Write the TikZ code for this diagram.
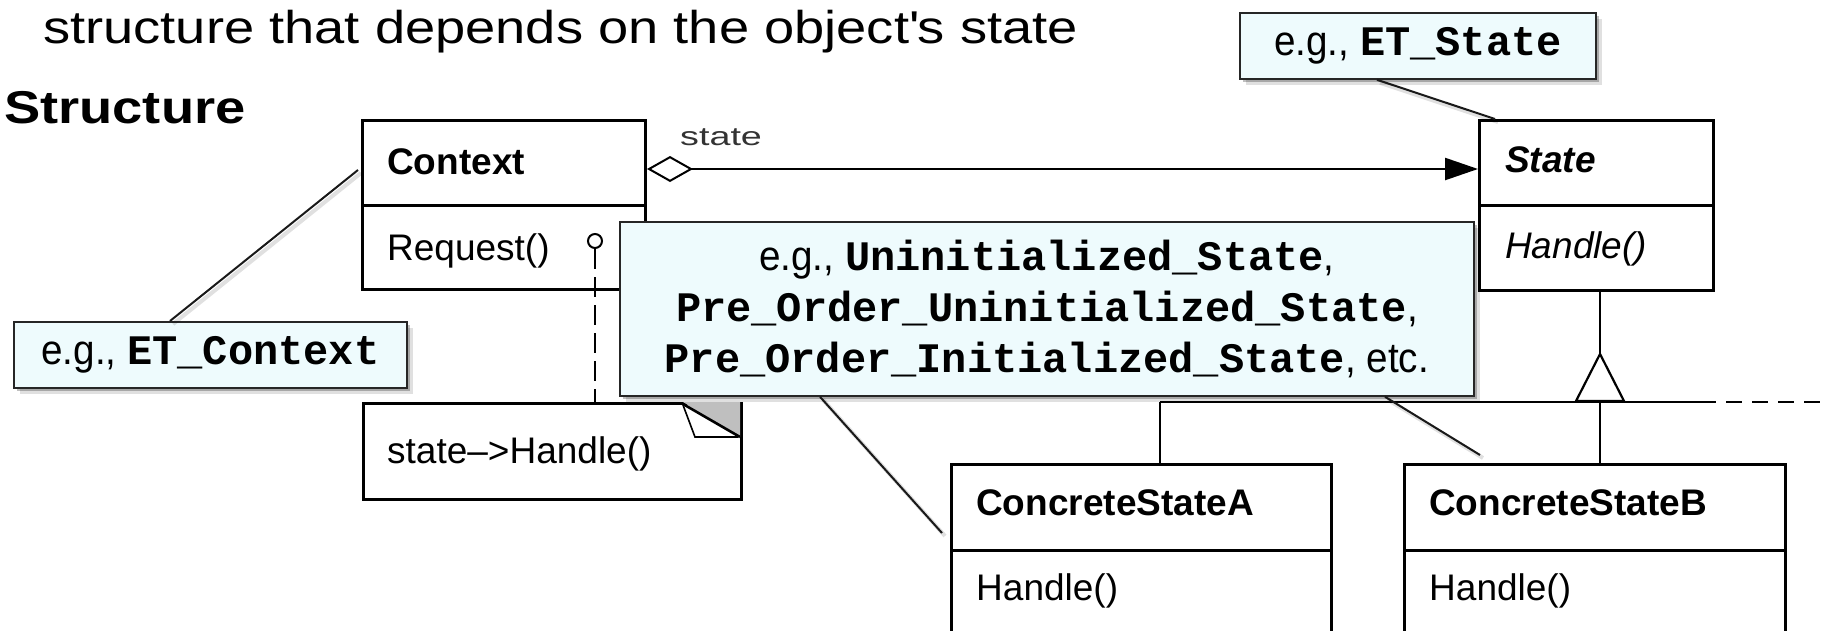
\documentclass[tikz,border=0pt]{standalone}
\usepackage{fontspec}
\setmainfont{Liberation Sans}
\newfontfamily\slidefont{Liberation Sans}[FakeStretch=0.92]
\newfontfamily\widefont{Liberation Sans}[FakeStretch=1.18]
\newfontfamily\rolefont{Liberation Sans}[FakeStretch=1.45]
\newfontfamily\codefont{Liberation Mono}
\usetikzlibrary{arrows.meta,calc,shadows}
\definecolor{notecyan}{RGB}{238,251,253}

\begin{document}
\begin{tikzpicture}[x=1pt,y=-1pt,
  classbox/.style={draw=black, line width=3pt, fill=white, inner sep=0pt, anchor=north west},
  umlop/.style={anchor=base west, inner sep=0pt, font=\fontsize{37}{40}\selectfont},
  umlname/.style={anchor=base west, inner sep=0pt, font=\fontsize{37}{40}\selectfont\bfseries},
  notebox/.style={draw=black!85, line width=1.8pt, fill=notecyan, inner sep=0pt,
    anchor=north west, align=center, font=\slidefont\fontsize{42}{51}\selectfont,
    drop shadow={shadow xshift=3pt, shadow yshift=-3pt, opacity=0.25, fill=black},
    drop shadow={shadow xshift=6pt, shadow yshift=-6pt, opacity=0.12, fill=black}},
  noteline/.style={draw=black!90, line width=2pt,
    preaction={draw=black, opacity=0.12, line width=4pt, transform canvas={shift={(3pt,-3pt)}}}},
  umlline/.style={draw=black, line width=2.6pt},
]
\useasboundingbox (0,0) rectangle (1827,630);
\clip (0,0) rectangle (1827,630);
\fill[white] (0,0) rectangle (1827,630);

% headings
\node[anchor=base west, inner sep=0pt, font=\widefont\fontsize{46}{52}\selectfont]
  (intro) at (43,43) {structure that depends on the object\textquotesingle s state};
\node[anchor=base west, inner sep=0pt, font=\widefont\bfseries\fontsize{46}{52}\selectfont]
  (heading) at (4,123) {Structure};

% Context class
\node[classbox, minimum width=283pt, minimum height=169pt] (context) at (361,119) {};
\draw[line width=3pt] (context.west) -- (context.east);
\node[umlname] (ctxname) at (387,174) {Context};
\node[umlop] (ctxop) at (387,260) {Request()};

% State class
\node[classbox, minimum width=234pt, minimum height=170pt] (state) at (1478,119) {};
\draw[line width=3pt] (state.west) -- (state.east);
\node[umlname, font=\fontsize{37}{40}\selectfont\bfseries\itshape] (statename) at (1505,172) {State};
\node[umlop, font=\fontsize{37}{40}\selectfont\itshape] (stateop) at (1505,258) {Handle()};

% concrete states
\node[classbox, minimum width=380pt, minimum height=172pt] (csa) at (950,463) {};
\draw[line width=3pt] (csa.west) -- (csa.east);
\node[umlname] (csaname) at (976,515) {ConcreteStateA};
\node[umlop] (csaop) at (976,600) {Handle()};

\node[classbox, minimum width=381pt, minimum height=172pt] (csb) at (1403,463) {};
\draw[line width=3pt] (csb.west) -- (csb.east);
\node[umlname] (csbname) at (1429,515) {ConcreteStateB};
\node[umlop] (csbop) at (1429,600) {Handle()};

% aggregation Context -> State
\draw[umlline, line width=2.4pt,
  {Diamond[open, fill=white, length=46pt, width=26pt, line width=2pt]}-{Triangle[length=33pt, width=22pt]}]
  ($(context.north east)+(0,50)$) -- ($(state.north west)+(0,50)$);
\node[anchor=base west, inner sep=0pt, font=\rolefont\fontsize{26}{28}\selectfont, text=black!80]
  (rolename) at (680,145) {state};

% inheritance tree
\coordinate (apex) at (1600,354);
\coordinate (hub) at (1600,402);
\coordinate (ja) at (1160,402);
\coordinate (treeend) at (1700,402);
\coordinate (dashend) at (1827,402);
\draw[umlline] (state.south -| apex) -- (apex);
\draw[umlline] (ja) -- (treeend);
\draw[umlline, dash pattern=on 16pt off 10pt] (treeend) -- (dashend);
\draw[umlline] (ja) -- (ja |- csa.north);
\draw[umlline] (hub) -- (hub |- csb.north);
\draw[umlline, line width=2.2pt, fill=white] (1576,401) -- (apex) -- (1624,401) -- cycle;

% implementation note of Request()
\node[draw=black, line width=2.6pt, fill=white, minimum width=378pt, minimum height=96pt,
  anchor=north west, inner sep=0pt] (codenote) at (362,402) {};
\fill[black!25] (683,402) -- (740,402) -- (740,437) -- cycle;
\draw[line width=1.6pt, fill=white] (683,405) -- (695,437) -- (738,437);
\draw[line width=2.6pt] (683,404) -- (740,437);
\node[umlop] (codetext) at (387,463) {state–>Handle()};
\node[circle, draw=black, line width=2pt, fill=white, minimum size=14pt, inner sep=0pt] (hook) at (595,241) {};
\draw[umlline, dash pattern=on 20pt off 8pt] (hook.south) -- (hook.south |- codenote.north);

% annotation call-outs
\node[notebox, minimum width=393pt, minimum height=66pt] (ctxnote) at (13,321)
  {e.g., {\codefont\bfseries ET\_Context}};
\node[notebox, minimum width=356pt, minimum height=66pt] (statenote) at (1239,12)
  {e.g., {\codefont\bfseries ET\_State}};
\node[notebox, minimum width=854pt, minimum height=174pt] (bignote) at (619,221)
  {e.g., {\codefont\bfseries Uninitialized\_State},\\
   {\codefont\bfseries Pre\_Order\_Uninitialized\_State},\\
   {\codefont\bfseries Pre\_Order\_Initialized\_State}, etc.};

\draw[noteline] ($(ctxnote.north west)+(157,0)$) -- ($(context.north west)+(-3,51)$);
\draw[noteline] ($(statenote.south west)+(138,0)$) -- ($(state.north west)+(17,0)$);
\draw[noteline] ($(bignote.south west)+(201,0)$) -- ($(csa.north west)+(-8,70)$);
\draw[noteline] ($(bignote.south west)+(766,0)$) -- ($(csb.north west)+(77,-8)$);
\end{tikzpicture}
\end{document}
